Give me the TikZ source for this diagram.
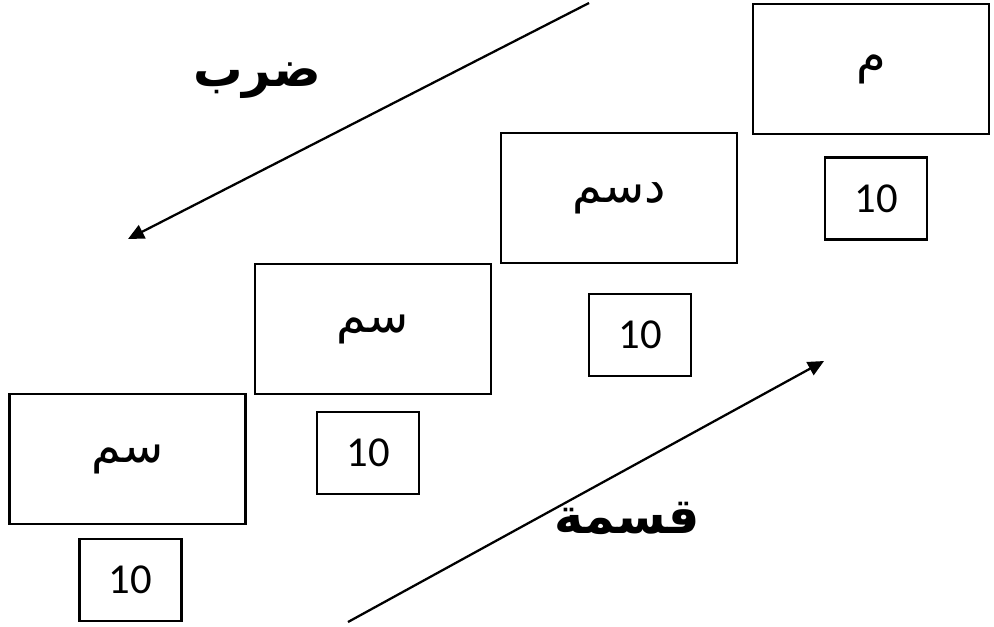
\documentclass[tikz,border=0pt]{standalone}
\usepackage{fontspec}
\usepackage{tikz}
\usetikzlibrary{arrows.meta}
\TeXXeTstate=1
\newfontfamily\arabicfont[Script=Arabic]{DejaVu Sans}
\newfontfamily\numfont{Carlito}

\begin{document}
\begin{tikzpicture}[
    x=0.75pt,y=-0.75pt,>=Latex,
    unitbox/.style={draw=black,line width=2pt,minimum width=177pt,minimum height=97.5pt,
      inner sep=0pt,font=\arabicfont\fontsize{36}{40}\selectfont},
    factorbox/.style={draw=black,line width=1.6pt,minimum width=76.5pt,minimum height=61.5pt,
      inner sep=0pt,font=\numfont\fontsize{32}{36}\selectfont},
    convarrow/.style={-{Triangle[length=12pt,width=11pt]},line width=1.7pt},
    oplabel/.style={font=\arabicfont\bfseries\fontsize{37}{42}\selectfont}
  ]
    \useasboundingbox (0,0) rectangle (994,626);

    % وحدات الطول
    \node[unitbox] (mm) at (127.5,459) {\beginR سم\endR};
    \node[unitbox] (cm) at (373,329) {\beginR سم\endR};
    \node[unitbox] (dm) at (619,198) {\beginR دسم\endR};
    \node[unitbox] (m)  at (871,69)  {\beginR م\endR};

    % معامل التحويل بين الوحدات
    \node[factorbox] (fmm) at (130.5,580) {10};
    \node[factorbox] (fcm) at (368,453)   {10};
    \node[factorbox] (fdm) at (640,335)   {10};
    \node[factorbox] (fm)  at (876,198.5) {10};

    % سهم الضرب وسهم القسمة
    \coordinate (mulstart) at (589,3);
    \coordinate (mulend)   at (128,239);
    \draw[convarrow] (mulstart)--(mulend);
    \node[oplabel] (mul) at (257,81) {\beginR ضرب\endR};

    \coordinate (divstart) at (348,622);
    \coordinate (divend)   at (824,361);
    \draw[convarrow] (divstart)--(divend);
    \node[oplabel] (div) at (627,518) {\beginR قسمة\endR};
  \end{tikzpicture}
\end{document}
